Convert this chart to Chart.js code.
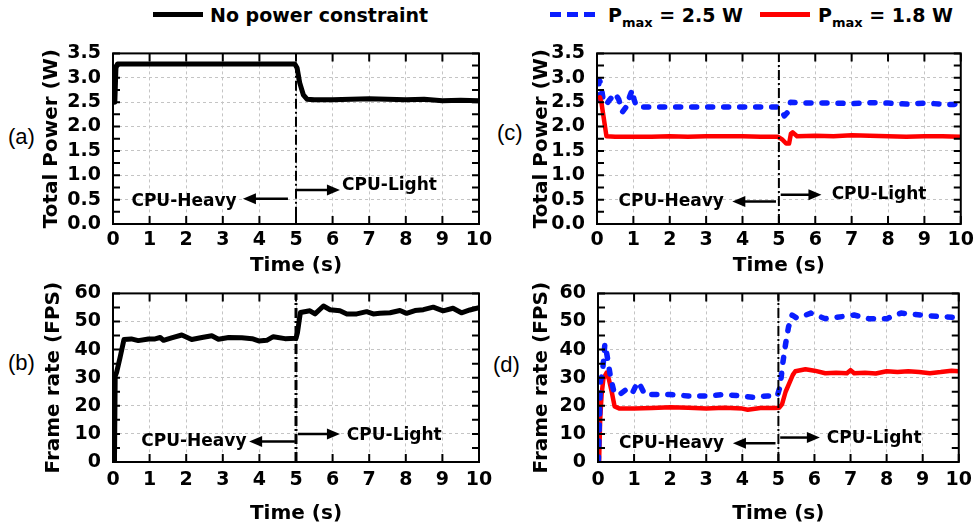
<!DOCTYPE html>
<html>
<head>
<meta charset="utf-8">
<script src="https://cdn.jsdelivr.net/npm/chart.js@4.4.1/dist/chart.umd.min.js"></script>
<style>
  html, body { margin: 0; padding: 0; background: #fff; }
  body { width: 979px; height: 529px; position: relative; overflow: hidden; }
  canvas { position: absolute; }
  .lbl { position: absolute; font: 22px "Liberation Sans", Arial, sans-serif; line-height: 22px; }
  .leg { position: absolute; font: bold 19px "DejaVu Sans", sans-serif; line-height: 22px; white-space: nowrap; }
  .leg sub { font-size: 13px; vertical-align: -5px; line-height: 0; }
  .sw { position: absolute; }
</style>
</head>
<body>
<div class="sw" style="left:153px;top:12px;width:50px;height:5px;background:#000"></div>
<div class="leg" style="left:210px;top:4px">No power constraint</div>
<div class="sw" style="left:550px;top:12px;width:45px;height:5px;background:repeating-linear-gradient(to right,#0a1eff 0 11px,transparent 11px 17px)"></div>
<div class="leg" style="left:608px;top:4px">P<sub>max</sub> = 2.5 W</div>
<div class="sw" style="left:760px;top:12px;width:50px;height:5px;background:#ff0000"></div>
<div class="leg" style="left:818px;top:4px">P<sub>max</sub> = 1.8 W</div>

<div class="lbl" style="left:8px;top:126px">(a)</div>
<div class="lbl" style="left:8px;top:352px">(b)</div>
<div class="lbl" style="left:497px;top:122px">(c)</div>
<div class="lbl" style="left:493px;top:354px">(d)</div>

<canvas id="pa"></canvas>
<canvas id="pb"></canvas>
<canvas id="pc"></canvas>
<canvas id="pd"></canvas>

<script>
// ---- data ----
const powerTicks = [0, 0.5, 1.0, 1.5, 2.0, 2.5, 3.0, 3.5];
const fpsTicks = [0, 10, 20, 30, 40, 50, 60];
const heavyText = 'CPU-Heavy';
const lightText = 'CPU-Light';
const switchTime = 5;

// (a) total power, no constraint
const timeA  = [0.05, 0.08, 0.12, 0.5, 1, 1.5, 2, 2.5, 3, 3.5, 4, 4.5, 4.97, 5.03, 5.1, 5.2, 5.3, 5.5, 6, 6.5, 7, 7.5, 8, 8.5, 9, 9.5, 10];
const powerA = [2.5, 3.2, 3.28, 3.28, 3.28, 3.28, 3.28, 3.28, 3.28, 3.28, 3.28, 3.28, 3.28, 3.2, 2.9, 2.65, 2.56, 2.55, 2.55, 2.56, 2.57, 2.56, 2.55, 2.56, 2.53, 2.54, 2.53];

// (b) frame rate, no constraint
const timeB = [0.04, 0.06, 0.1, 0.19, 0.3, 0.5, 0.69, 0.97, 1.15, 1.29, 1.38, 1.6, 1.88, 2.15, 2.43, 2.7, 2.88, 3.16, 3.52, 3.8, 3.98, 4.2, 4.38, 4.7, 5.0, 5.04, 5.12, 5.38, 5.52, 5.75, 5.93, 6.2, 6.39, 6.66, 6.93, 7.11, 7.29, 7.57, 7.84, 8.02, 8.25, 8.48, 8.75, 9.02, 9.29, 9.52, 9.75, 10];
const fpsB  = [0, 30.5, 32, 37, 43.6, 43.8, 43.2, 43.8, 43.8, 44.3, 43.3, 44.2, 45.2, 43.6, 44.3, 44.9, 43.7, 44.3, 44.2, 43.9, 43.1, 43.3, 44.6, 43.9, 44, 46, 53.2, 53.8, 52.7, 55.5, 54.2, 53.8, 52.7, 52.7, 53.5, 52.7, 52.9, 53.1, 53.9, 52.9, 53.9, 54.2, 55.1, 53.8, 54.7, 53.1, 54.1, 54.9];

// (c) total power, Pmax = 2.5 W (blue) and 1.8 W (red)
const timeC25  = [0.02, 0.06, 0.1, 0.16, 0.25, 0.35, 0.5, 0.6, 0.7, 0.8, 0.9, 0.97, 1.02, 1.08, 1.2, 1.5, 2, 2.5, 3, 3.5, 4, 4.5, 4.95, 5.05, 5.15, 5.25, 5.32, 5.45, 6, 6.5, 7, 7.5, 8, 8.5, 9, 9.5, 9.8, 10];
const powerC25 = [2.55, 2.95, 2.9, 2.6, 2.45, 2.55, 2.68, 2.55, 2.3, 2.4, 2.62, 2.75, 2.55, 2.42, 2.4, 2.4, 2.4, 2.4, 2.4, 2.4, 2.4, 2.4, 2.4, 2.35, 2.22, 2.3, 2.5, 2.49, 2.48, 2.48, 2.47, 2.49, 2.48, 2.46, 2.48, 2.46, 2.45, 2.48];
const timeC18  = [0.08, 0.12, 0.2, 0.26, 0.5, 1, 1.5, 2, 2.5, 3, 3.5, 4, 4.5, 4.97, 5.1, 5.2, 5.28, 5.33, 5.38, 5.5, 6, 6.5, 7, 7.5, 8, 8.5, 9, 9.5, 10];
const powerC18 = [2.6, 2.5, 2.1, 1.8, 1.79, 1.79, 1.79, 1.8, 1.79, 1.8, 1.8, 1.8, 1.79, 1.79, 1.73, 1.65, 1.65, 1.85, 1.88, 1.8, 1.81, 1.8, 1.82, 1.81, 1.8, 1.79, 1.8, 1.8, 1.79];

// (d) frame rate, Pmax = 2.5 W (blue) and 1.8 W (red)
const timeD25 = [0.01, 0.04, 0.07, 0.12, 0.19, 0.25, 0.35, 0.45, 0.6, 0.75, 0.85, 0.97, 1.1, 1.18, 1.3, 1.6, 2, 2.5, 3, 3.5, 4, 4.3, 4.7, 4.97, 5.05, 5.12, 5.2, 5.28, 5.38, 5.5, 5.7, 5.9, 6.3, 6.8, 7.1, 7.5, 8.0, 8.4, 8.8, 9.2, 9.6, 9.85, 10];
const fpsD25  = [0, 15, 29, 31, 42, 38, 30, 24.5, 24, 25.5, 26.5, 25, 28.5, 27, 24, 24, 24, 23.5, 23.5, 24, 23.5, 23, 23.5, 23.5, 27, 35, 42, 48, 52.3, 51.3, 52, 53, 51, 51.8, 52.3, 51, 51, 53, 52.5, 52, 51.7, 51.5, 50.5];
const timeD18 = [0.03, 0.06, 0.1, 0.15, 0.24, 0.3, 0.38, 0.46, 0.6, 1, 1.5, 2, 2.5, 3, 3.5, 4, 4.15, 4.5, 4.9, 5.02, 5.1, 5.2, 5.3, 5.4, 5.47, 5.75, 6.0, 6.3, 6.6, 6.9, 7.0, 7.1, 7.4, 7.7, 8.0, 8.3, 8.6, 8.9, 9.2, 9.5, 9.8, 10];
const fpsD18  = [0, 15, 24, 29.6, 31.8, 29.5, 25, 19.8, 19, 19, 19.2, 19.5, 19.3, 19, 19.3, 19, 18.6, 19.2, 19.2, 19.3, 20.5, 25, 28, 31, 32.3, 33, 32.5, 31.6, 31.8, 31.6, 32.7, 31.6, 31.8, 31.5, 32.3, 32, 32.3, 32, 31.6, 32, 32.5, 32.3];

// ---- helpers ----
const pts = (xs, ys) => xs.map((x, i) => ({ x: x, y: ys[i] }));
const BLACK = '#000000', RED = '#ff0000', BLUE = '#0a1eff';
const GRID = '#c4c4c4';

function solid(xs, ys, color, w) {
    return { data: pts(xs, ys), borderColor: color, borderWidth: w, pointRadius: 0, tension: 0,
             borderJoinStyle: 'round', borderCapStyle: 'round' };
}
function dashed(xs, ys, color) {
    return { data: pts(xs, ys), borderColor: color, borderWidth: 5.5, pointRadius: 0, tension: 0,
             borderDash: [5, 11], borderCapStyle: 'round', borderJoinStyle: 'round' };
}
function switchLine(lo, hi, w) {
    return { data: pts([switchTime, switchTime], [lo, hi]), borderColor: BLACK, borderWidth: w,
             pointRadius: 0, borderDash: [10, 3, 2, 3] };
}

function arrow(ctx, x1, x2, y) {
    const dir = x2 > x1 ? 1 : -1;
    ctx.lineWidth = 2.5;
    ctx.beginPath(); ctx.moveTo(x1, y); ctx.lineTo(x2 - dir * 9, y); ctx.stroke();
    ctx.beginPath(); ctx.moveTo(x2, y); ctx.lineTo(x2 - dir * 13, y - 5.5); ctx.lineTo(x2 - dir * 13, y + 5.5);
    ctx.closePath(); ctx.fill();
}

const framePlugin = {
    id: 'frame',
    afterDraw(chart, args, opts) {
        const { ctx, chartArea: a, scales: { x, y } } = chart;
        ctx.save();
        ctx.setLineDash([]);
        ctx.strokeStyle = BLACK; ctx.fillStyle = BLACK;
        ctx.lineWidth = 2;
        ctx.strokeRect(a.left, a.top, a.right - a.left, a.bottom - a.top);
        ctx.beginPath();
        x.ticks.forEach(t => {
            const px = x.getPixelForValue(t.value);
            ctx.moveTo(px, a.bottom); ctx.lineTo(px, a.bottom - 8);
            ctx.moveTo(px, a.top); ctx.lineTo(px, a.top + 8);
        });
        y.ticks.forEach(t => {
            const py = y.getPixelForValue(t.value);
            ctx.moveTo(a.left, py); ctx.lineTo(a.left + 7, py);
            ctx.moveTo(a.right, py); ctx.lineTo(a.right - 7, py);
        });
        ctx.stroke();

        const h = opts.heavy, l = opts.light;
        ctx.font = 'bold 17px "DejaVu Sans", sans-serif';
        ctx.textBaseline = 'middle';
        ctx.textAlign = 'center';
        ctx.fillText(heavyText, x.getPixelForValue(h.tx), y.getPixelForValue(h.ty));
        arrow(ctx, x.getPixelForValue(h.from), x.getPixelForValue(h.to), y.getPixelForValue(h.y));
        ctx.textAlign = 'left';
        ctx.fillText(lightText, x.getPixelForValue(l.tx), y.getPixelForValue(l.ty));
        arrow(ctx, x.getPixelForValue(l.from), x.getPixelForValue(l.to), y.getPixelForValue(l.y));
        ctx.restore();
    }
};

const tickFont = { family: '"DejaVu Sans", sans-serif', size: 19, weight: 'bold' };
const titleFont = { family: '"DejaVu Sans", sans-serif', size: 20, weight: 'bold', lineHeight: 1 };

function makePanel(id, box, area, cfg) {
    const cv = document.getElementById(id);
    cv.style.left = box.left + 'px'; cv.style.top = box.top + 'px';
    cv.width = box.w; cv.height = box.h;
    cv.style.width = box.w + 'px'; cv.style.height = box.h + 'px';
    const labels = cfg.yLabels;
    return new Chart(cv, {
        type: 'line',
        data: { datasets: cfg.datasets },
        plugins: [framePlugin],
        options: {
            responsive: false, animation: false, devicePixelRatio: 1,
            layout: { padding: { left: 0, top: area.t - box.top, right: box.left + box.w - area.r, bottom: 0 } },
            plugins: {
                legend: { display: false }, tooltip: { enabled: false },
                frame: { heavy: cfg.heavy, light: cfg.light }
            },
            scales: {
                x: {
                    type: 'linear', min: 0, max: 10,
                    ticks: { stepSize: 1, padding: cfg.xPad, color: BLACK, font: tickFont, maxRotation: 0, autoSkip: false },
                    grid: { color: GRID, lineWidth: 1, drawTicks: false },
                    border: { display: false, dash: [3, 3] },
                    title: { display: true, text: 'Time (s)', color: BLACK, font: titleFont, padding: { top: 0, bottom: cfg.xTitlePad } },
                    afterFit: s => { s.height = box.top + box.h - area.b; }
                },
                y: {
                    type: 'linear', min: 0, max: cfg.yMax,
                    ticks: {
                        stepSize: cfg.yStep, padding: 12, color: BLACK, font: tickFont, autoSkip: false, maxTicksLimit: 100,
                        callback: v => labels.includes(v) ? cfg.fmt(v) : ''
                    },
                    grid: { color: c => labels.includes(c.tick.value) ? GRID : 'rgba(0,0,0,0)', lineWidth: 1, drawTicks: false },
                    border: { display: false, dash: [3, 3] },
                    title: { display: true, text: cfg.yTitle, color: BLACK, font: titleFont, padding: { top: cfg.yTitlePad, bottom: 0 } },
                    afterFit: s => { s.width = area.l - box.left; }
                }
            }
        }
    });
}

const fmtPower = v => v.toFixed(1);
const fmtFps = v => String(v);

makePanel('pa', { left: 0, top: 30, w: 500, h: 250 }, { l: 113, t: 43, r: 479, b: 224 }, {
    yMax: 3.5, yStep: 0.25, yLabels: powerTicks, fmt: fmtPower, yTitle: 'Total Power (W)',
    xPad: 5, xTitlePad: 4, yTitlePad: 42,
    datasets: [switchLine(0.15, 3.28, 2), solid(timeA, powerA, BLACK, 5)],
    heavy: { tx: 1.94, ty: 0.46, from: 4.78, to: 3.55, y: 0.52 },
    light: { tx: 6.26, ty: 0.79, from: 5.0, to: 6.2, y: 0.70 }
});
makePanel('pb', { left: 0, top: 270, w: 500, h: 259 }, { l: 113, t: 282, r: 479, b: 462 }, {
    yMax: 60, yStep: 5, yLabels: fpsTicks, fmt: fmtFps, yTitle: 'Frame rate (FPS)',
    xPad: 7, xTitlePad: 5, yTitlePad: 44,
    datasets: [switchLine(0, 60, 3), solid(timeB, fpsB, BLACK, 5)],
    heavy: { tx: 2.21, ty: 7.3, from: 4.97, to: 3.72, y: 7.3 },
    light: { tx: 6.39, ty: 9.3, from: 5.05, to: 6.2, y: 10 }
});
makePanel('pc', { left: 490, top: 30, w: 489, h: 250 }, { l: 597, t: 43, r: 963, b: 224 }, {
    yMax: 3.5, yStep: 0.25, yLabels: powerTicks, fmt: fmtPower, yTitle: 'Total Power (W)',
    xPad: 5, xTitlePad: 4, yTitlePad: 42,
    datasets: [switchLine(0, 3.35, 2), solid(timeC18, powerC18, RED, 4.5), dashed(timeC25, powerC25, BLUE)],
    heavy: { tx: 2.04, ty: 0.46, from: 4.92, to: 3.72, y: 0.46 },
    light: { tx: 6.45, ty: 0.6, from: 5.05, to: 6.17, y: 0.6 }
});
makePanel('pd', { left: 490, top: 270, w: 489, h: 259 }, { l: 598, t: 282, r: 964, b: 462 }, {
    yMax: 60, yStep: 5, yLabels: fpsTicks, fmt: fmtFps, yTitle: 'Frame rate (FPS)',
    xPad: 7, xTitlePad: 5, yTitlePad: 42,
    datasets: [switchLine(0, 60, 2), dashed(timeD25, fpsD25, BLUE), solid(timeD18, fpsD18, RED, 4.5)],
    heavy: { tx: 2.04, ty: 6.7, from: 4.92, to: 3.74, y: 6.7 },
    light: { tx: 6.34, ty: 8.3, from: 5.05, to: 6.15, y: 8.7 }
});
</script>
</body>
</html>
